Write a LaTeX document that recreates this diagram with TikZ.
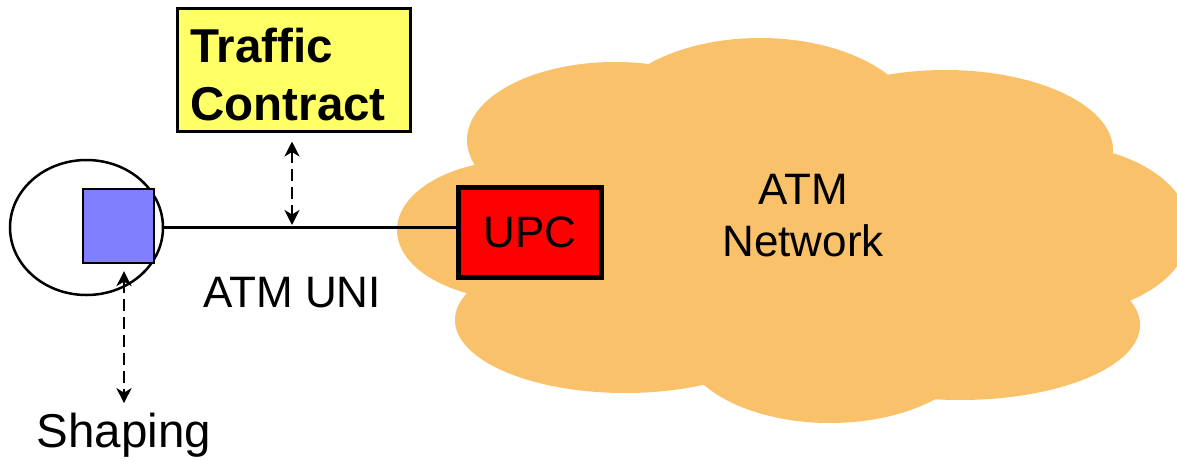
\documentclass[tikz,border=0pt]{standalone}
\usepackage{fontspec}
\setmainfont{Liberation Sans}
\usetikzlibrary{shapes.geometric,arrows.meta}
\definecolor{cloudfill}{RGB}{249,193,106}
\definecolor{shaperblue}{RGB}{128,128,255}
\definecolor{contractyellow}{RGB}{255,255,102}
\begin{document}
\begin{tikzpicture}[x=1pt,y=-1pt,
  lbl/.style={font=\fontsize{44}{52}\selectfont, inner sep=0pt},
  dasharrow/.style={line width=2.8pt, dash pattern=on 12pt off 6pt,
    {Stealth[length=15pt,width=15pt,inset=4.5pt]}-{Stealth[length=15pt,width=15pt,inset=4.5pt]}},
  lobe/.style={fill=cloudfill, draw=none}
  ]
\useasboundingbox (0,0) rectangle (1177,461);

% the network cloud, built from overlapping lobes
\begin{scope}
  \clip (0,0) rectangle (1177,461);
  \path[lobe] (790,230) ellipse [x radius=300pt, y radius=150pt];
  \path[lobe] (615,140) ellipse [x radius=148pt, y radius=78pt];
  \path[lobe] (760,130) ellipse [x radius=160pt, y radius=92pt];
  \path[lobe] (945,150) ellipse [x radius=168pt, y radius=80pt];
  \path[lobe] (1055,230) ellipse [x radius=135pt, y radius=85pt];
  \path[lobe] (960,325) ellipse [x radius=180pt, y radius=75pt];
  \path[lobe] (830,340) ellipse [x radius=150pt, y radius=83pt];
  \path[lobe] (625,320) ellipse [x radius=170pt, y radius=73pt];
  \path[lobe] (520,230) ellipse [x radius=123pt, y radius=70pt];
\end{scope}

% user side: terminal and its shaper
\node[ellipse, draw, line width=2.5pt, minimum width=153pt, minimum height=135pt, inner sep=0pt] (host) at (86.5,227.5) {};
\node[draw, line width=2.2pt, fill=shaperblue, minimum width=71pt, minimum height=74pt, inner sep=0pt] (shaper) at (118.5,226) {};

% traffic contract box
\node[draw, line width=3pt, fill=contractyellow, minimum width=233pt, minimum height=123pt,
      text width=207pt, align=left, inner sep=0pt, font=\bfseries\fontsize{47.5}{58}\selectfont]
      (traffic) at (294,70) {\rule{0pt}{44pt}Traffic\\Contract};

% policing function at the network edge
\node[draw, line width=5pt, fill=red, minimum width=143pt, minimum height=90pt, lbl] (upc) at (530,232) {UPC};

% UNI link
\draw[line width=2.5pt] (host.east) -- (host.east -| upc.west);
\coordinate (tap) at (292,227);

% labels
\node[lbl, align=center] (net) at (803,216) {ATM\\Network};
\node[lbl] (uni) at (292,293) {ATM UNI};
\node[font=\fontsize{47.5}{52}\selectfont, inner sep=0pt] (shaping) at (124,435) {Shaping};

% dashed relations
\draw[dasharrow, shorten <=8.5pt, shorten >=2pt] (traffic.south -| tap) -- (tap);
\draw[dasharrow, shorten <=7pt, shorten >=9.5pt] (shaping.north |- shaper.south) -- (shaping.north);
\end{tikzpicture}
\end{document}
